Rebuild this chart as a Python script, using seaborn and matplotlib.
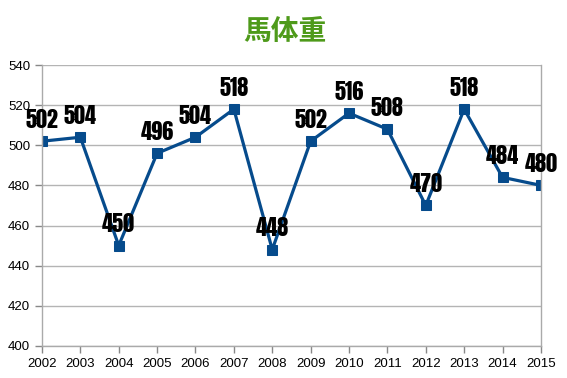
import pandas as pd
import numpy as np
import matplotlib.pyplot as plt
import seaborn as sns

years = [2002, 2003, 2004, 2005, 2006, 2007, 2008, 2009, 2010, 2011, 2012, 2013, 2014, 2015]
weights = [502, 504, 450, 496, 504, 518, 448, 502, 516, 508, 470, 518, 484, 480]
y_ticks = [400, 420, 440, 460, 480, 500, 520, 540]

df = pd.DataFrame({'year': years, 'weight': weights})

sns.set_style('white')
plt.rcParams['font.family'] = ['Liberation Sans', 'DejaVu Sans']

fig = plt.figure(figsize=(5.67, 3.78), dpi=100)
ax = fig.add_axes([0.074, 0.085, 0.88, 0.743])

line_color = '#064b8c'
sns.lineplot(data=df, x='year', y='weight', ax=ax, color=line_color, linewidth=2.3,
             marker='s', markersize=7.5, markeredgecolor=line_color, markerfacecolor=line_color)

# data labels, impact-like condensed font
for x, y in zip(years, weights):
    ax.annotate(str(y), (x, y), xytext=(0, 15.5), textcoords='offset points',
                ha='center', va='center', fontsize=16,
                family=['Anton', 'DejaVu Sans'], color='black')

ax.set_xlim(2002, 2015)
ax.set_ylim(400, 540)
ax.set_xticks(years)
ax.set_yticks(y_ticks)
ax.tick_params(axis='both', labelsize=9.5, colors='#888888', labelcolor='black',
               length=5, direction='out', width=1)
ax.tick_params(axis='both', which='both', bottom=True, left=True)
ax.yaxis.grid(True, color='#b4b4b4', linewidth=1)
ax.set_xlabel('')
ax.set_ylabel('')
for side in ['left', 'bottom', 'right']:
    ax.spines[side].set_color('#aaaaaa')
    ax.spines[side].set_linewidth(1)
ax.spines['top'].set_visible(False)

fig.text(0.503, 0.915, '馬体重', ha='center', va='center', fontsize=20, fontweight='bold',
         color='#4e9a1a', family=['Noto Sans CJK JP', 'DejaVu Sans'])

fig.savefig('out.png', dpi=100)
